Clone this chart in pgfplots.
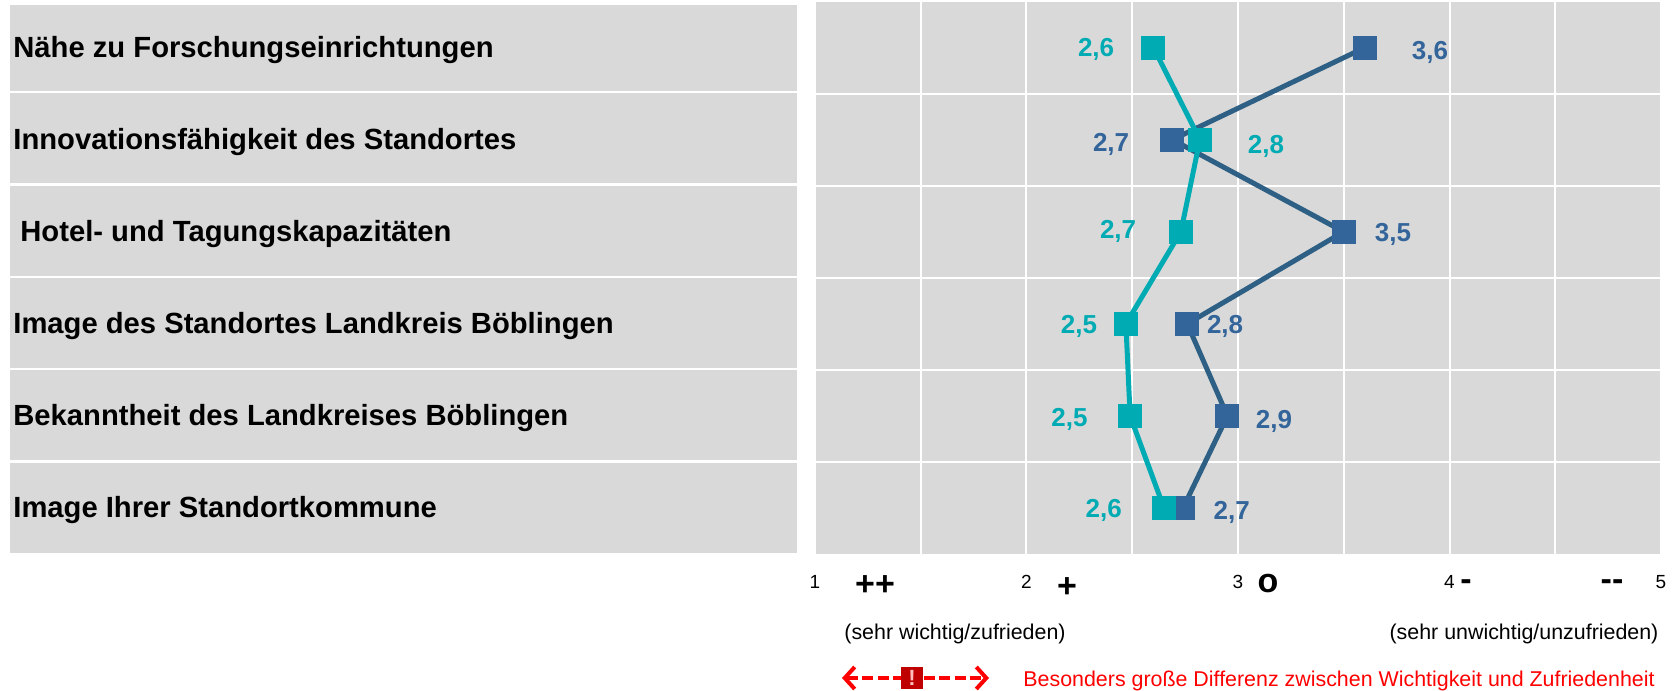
\documentclass[border=0pt]{standalone}
\usepackage{pgfplots}
\pgfplotsset{compat=1.18}
\usepackage{pgfplotstable}
\usepackage{fontspec}
\setmainfont{Liberation Sans}
\usetikzlibrary{arrows.meta}
\definecolor{panel}{HTML}{D9D9D9}
\definecolor{tealc}{HTML}{00ABB3}
\definecolor{bluem}{HTML}{33659B}
\definecolor{bluel}{HTML}{2E6085}
\pgfplotstableread{
x y
3.60 1
2.69 2
3.50 3
2.76 4
2.95 5
2.74 6
}\wichtig
\pgfplotstableread{
x y
2.60 1
2.82 2
2.73 3
2.47 4
2.49 5
2.65 6
}\zufrieden
\pgfplotstableread{
x y l
2.329 1.00 {2,6}
3.132 2.05 {2,8}
2.433 2.97 {2,7}
2.248 4.00 {2,5}
2.203 5.02 {2,5}
2.365 6.00 {2,6}
}\labelsT
\pgfplotstableread{
x y l
3.908 1.025 {3,6}
2.400 2.03 {2,7}
3.733 3.005 {3,5}
2.939 4.00 {2,8}
3.170 5.04 {2,9}
2.970 6.02 {2,7}
}\labelsB
\begin{document}
\begin{tikzpicture}
\path[use as bounding box] (0pt,0pt) rectangle (836pt,-345.5pt);
\begin{scope}[x=0.5pt,y=-0.5pt]
\foreach \a/\b in {4.5/90.6,92.8/183,185.5/275.5,277.8/368,370.3/460,462.6/552.5}
  \fill[panel] (10,\a) rectangle (797,\b);
\end{scope}
\begin{axis}[
  at={(407.5pt,-277pt)}, anchor=south west,
  scale only axis, width=423pt, height=276.25pt,
  xmin=1, xmax=5, ymin=0.5, ymax=6.5, y dir=reverse,
  axis line style={draw=none},
  axis background/.style={fill=panel},
  xtick={1,2,3,4,5}, minor xtick={1.5,2.5,3.5,4.5},
  ytick={1,2,3,4,5,6}, minor ytick={1.5,2.5,3.5,4.5,5.5},
  major tick length=0pt, minor tick length=0pt,
  xmajorgrids=true, xminorgrids=true, ymajorgrids=false, yminorgrids=true,
  grid style={white,line width=1pt},
  minor grid style={white,line width=1pt},
  major grid style={white,line width=1pt},
  axis on top=false,
  /pgf/number format/assume math mode=true,
  xticklabel pos=bottom,
  xticklabel style={font=\fontsize{9.5}{11}\selectfont,black,yshift=-7pt},
  yticklabels={\raisebox{-1pt}{Nähe zu Forschungseinrichtungen},Innovationsfähigkeit des Standortes,\hspace*{3.5pt}Hotel- und Tagungskapazitäten,Image des Standortes Landkreis Böblingen,Bekanntheit des Landkreises Böblingen,Image Ihrer Standortkommune},
  yticklabel style={anchor=west,xshift=-401pt,yshift=-1.2pt,font=\fontsize{14.6}{16}\selectfont\bfseries,inner sep=0pt,black},
  clip=false,
]
\addplot[bluel,line width=2.5pt,mark=square*,mark size=5.75pt,mark options={fill=bluem,draw=bluem,line width=0pt,solid}] table[x=x,y=y] {\wichtig};
\addplot[tealc,line width=2.5pt,mark=square*,mark size=5.75pt,mark options={fill=tealc,draw=tealc,line width=0pt,solid}] table[x=x,y=y] {\zufrieden};
\addplot[draw=none,mark=none,nodes near coords,point meta=explicit symbolic,
  every node near coord/.style={anchor=center,yshift=-1.1pt,text=tealc,font=\fontsize{13}{15}\selectfont\bfseries}]
  table[x=x,y=y,meta=l] {\labelsT};
\addplot[draw=none,mark=none,nodes near coords,point meta=explicit symbolic,
  every node near coord/.style={anchor=center,yshift=-1.1pt,text=bluem,font=\fontsize{13}{15}\selectfont\bfseries}]
  table[x=x,y=y,meta=l] {\labelsB};
\end{axis}
\begin{scope}[x=0.5pt,y=-0.5pt]
\foreach \xx/\yy/\s in {875/586/++,1067/588/+,1268/584/o,1466/585/{-},1612/585/{-{}-}}
  \node[font=\fontsize{17}{19}\selectfont\bfseries,inner sep=0pt] at (\xx,\yy) {\s};
\node[font=\fontsize{10.7}{13}\selectfont,inner sep=0pt] at (955,634) {(sehr wichtig/zufrieden)};
\node[font=\fontsize{10.7}{13}\selectfont,inner sep=0pt] at (1524,634) {(sehr unwichtig/unzufrieden)};
\node[font=\fontsize{10.7}{13}\selectfont,inner sep=0pt,anchor=west,text=red] at (1023,681) {Besonders große Differenz zwischen Wichtigkeit und Zufriedenheit};
\draw[red,line width=2pt,dash pattern=on 5.5pt off 2.2pt,{Straight Barb[length=5pt,width=11pt,line width=2pt]}-{Straight Barb[length=5pt,width=11pt,line width=2pt]}] (842,678) -- (989,678);
\fill[red!75!black] (901,667) rectangle (923,689);
\node[font=\fontsize{11}{13}\selectfont\bfseries,text=white!75!red,inner sep=0pt] at (912,678) {!};
\end{scope}
\end{tikzpicture}
\end{document}
